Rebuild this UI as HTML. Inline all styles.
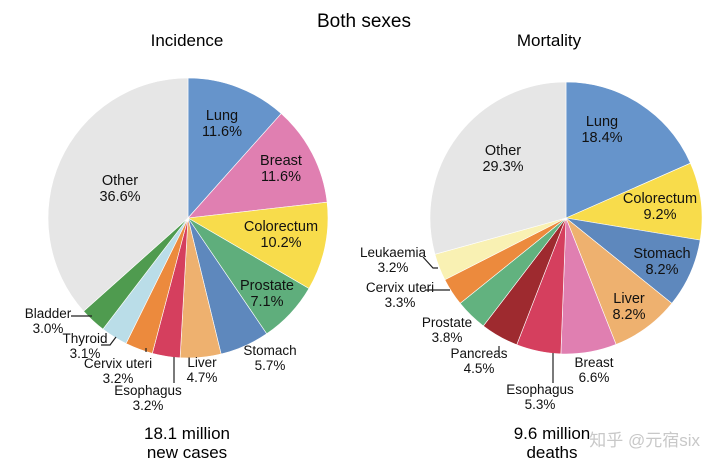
<!DOCTYPE html>
<html><head><meta charset="utf-8"><style>
body{margin:0;background:#fff;}
svg{display:block;font-family:"Liberation Sans",Arial,sans-serif;}
</style></head><body>
<svg id="c" width="720" height="472" viewBox="0 0 720 472">
<text x="364" y="27" font-size="19" text-anchor="middle">Both sexes</text>
<text x="187" y="46" font-size="17" text-anchor="middle">Incidence</text>
<text x="549" y="46" font-size="17" text-anchor="middle">Mortality</text>
<g id="pies"></g>
<text x="187" y="439" font-size="17" text-anchor="middle"><tspan x="187">18.1 million</tspan><tspan x="187" dy="19">new cases</tspan></text>
<text x="552" y="439" font-size="17" text-anchor="middle"><tspan x="552">9.6 million</tspan><tspan x="552" dy="19">deaths</tspan></text>
<text x="700" y="446" font-size="17" text-anchor="end" fill="#c8c8c8" font-family="'Liberation Sans','Noto Sans CJK SC',sans-serif">知乎 @元宿six</text>
</svg>
<script>
const incCategories=["Lung","Breast","Colorectum","Prostate","Stomach","Liver","Esophagus","Cervix uteri","Thyroid","Bladder","Other"];
const incValues=[11.6,11.6,10.2,7.1,5.7,4.7,3.2,3.2,3.1,3.0,36.6];
const incColors=["#6694cb","#e07fb1","#f8dc4b","#5fae7c","#5e88bd","#eeb16f","#d53f5e","#ec8a3d","#badde8","#4f9b4f","#e6e6e6"];
const morCategories=["Lung","Colorectum","Stomach","Liver","Breast","Esophagus","Pancreas","Prostate","Cervix uteri","Leukaemia","Other"];
const morValues=[18.4,9.2,8.2,8.2,6.6,5.3,4.5,3.8,3.3,3.2,29.3];
const morColors=["#6694cb","#f8dc4b","#5e88bd","#eeb16f","#e07fb1","#d53f5e","#9e2a2f","#62b27f","#ec8a3d","#f9f1b3","#e6e6e6"];
// label anchor positions (layout)
const incLabels=[[222,115,14.5],[281,160,14.5],[281,226,14.5],[267,285,14.5],[270,350,13.5],[202,362,13.5],[148,390,13.5],[118,363,13.5],[85,338,13.5],[48,313,13.5],[120,180,14.5]];
const morLabels=[[602,121,14.5],[660,198,14.5],[662,253,14.5],[629,298,14.5],[594,362,13.5],[540,389,13.5],[479,353,13.5],[447,322,13.5],[400,287,13.5],[393,252,13.5],[503,150,14.5]];
const NS="http://www.w3.org/2000/svg";
const g=document.getElementById("pies");
function mk(t,a){const e=document.createElementNS(NS,t);for(const k in a)e.setAttribute(k,a[k]);return e;}
function pie(cx,cy,r,cats,vals,cols,labs,prefix){
  const tot=vals.reduce((a,b)=>a+b,0);let a0=0;
  vals.forEach((v,i)=>{
    const a1=a0+v/tot*2*Math.PI;
    const x0=cx+r*Math.sin(a0),y0=cy-r*Math.cos(a0),x1=cx+r*Math.sin(a1),y1=cy-r*Math.cos(a1);
    const p=mk("path",{d:`M${cx},${cy}L${x0},${y0}A${r},${r} 0 ${a1-a0>Math.PI?1:0} 1 ${x1},${y1}Z`,fill:cols[i],stroke:"#fff","stroke-width":"0.6"});
    
    
    g.appendChild(p);a0=a1;
  });
  labs.forEach((l,i)=>{
    const t=mk("text",{x:l[0],y:l[1]+5,"font-size":l[2],"text-anchor":"middle",fill:"#111"});
    t.innerHTML=`<tspan x="${l[0]}">${cats[i]}</tspan><tspan x="${l[0]}" dy="${l[2]+1.5}">${vals[i].toFixed(1)}%</tspan>`;
    
    
    g.appendChild(t);
  });
}
pie(188,218,140,incCategories,incValues,incColors,incLabels,"incidence");
pie(566,218,136,morCategories,morValues,morColors,morLabels,"mortality");
const leaders=["M174,357V383","M146,348V352","M101,345H110L116,337","M71,316H92","M553,353V383","M499,346V353","M425,290H450","M423,257L433,268H438"];
leaders.forEach(d=>{const p=mk("path",{d:d,stroke:"#222",fill:"none","stroke-width":"1.2"});


g.appendChild(p);});
</script>
</body></html>
